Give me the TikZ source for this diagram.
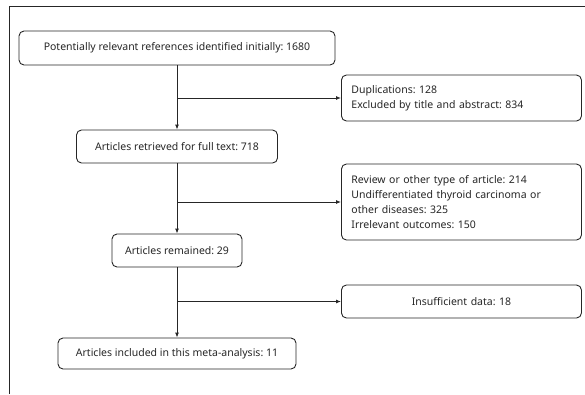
\documentclass[tikz,border=0pt]{standalone}
\usepackage{fontspec}
\setmainfont{Noto Sans}
\frenchspacing
\usetikzlibrary{arrows.meta}

\begin{document}
\begin{tikzpicture}[x=1pt, y=-1pt,
    >={Latex[length=5pt,width=4pt]},
    every node/.style={font=\fontsize{10.5}{15}\selectfont, text=black!85},
    box/.style={draw=black!85, rounded corners=5pt, line width=0.9pt, inner xsep=10pt, inner ysep=0pt},
    side/.style={box, text width=220pt, align=left, anchor=west},
    link/.style={draw=black!85, line width=0.9pt}
  ]
  \useasboundingbox (0,0) rectangle (585,394);
  \draw[link] (585,6) -- (9,6) -- (9,394); % frame

  % main column
  \node[box, minimum width=316pt, minimum height=34pt] (ident) at (177,48) {Potentially relevant references identified initially: 1680};
  \node[box, minimum width=201pt, minimum height=33pt] (full) at (177,146.5) {Articles retrieved for full text: 718};
  \node[box, minimum width=130pt, minimum height=33pt] (remain) at (177,250.5) {Articles remained: 29};
  \node[box, minimum width=238pt, minimum height=31pt] (incl) at (177,353.5) {Articles included in this meta-analysis: 11};

  % excluded
  \node[side, minimum height=46pt] (dup) at (341,98) {Duplications: 128\\Excluded by title and abstract: 834};
  \node[side, minimum height=76pt] (review) at (341,202) {Review or other type of article: 214\\Undifferentiated thyroid carcinoma or\\other diseases: 325\\Irrelevant outcomes: 150};
  \node[side, align=center, minimum height=33pt] (insuf) at (341,301.5) {Insufficient data: 18};

  \coordinate (b1) at (ident.south |- dup.west);
  \coordinate (b2) at (full.south |- review.west);
  \coordinate (b3) at (remain.south |- insuf.west);

  \draw[link,->] (ident) -- (full);
  \draw[link,->] (full) -- (remain);
  \draw[link,->] (remain) -- (incl);
  \draw[link,->] (b1) -- (dup.west);
  \draw[link,->] (b2) -- (review.west);
  \draw[link,->] (b3) -- (insuf.west);
\end{tikzpicture}
\end{document}
